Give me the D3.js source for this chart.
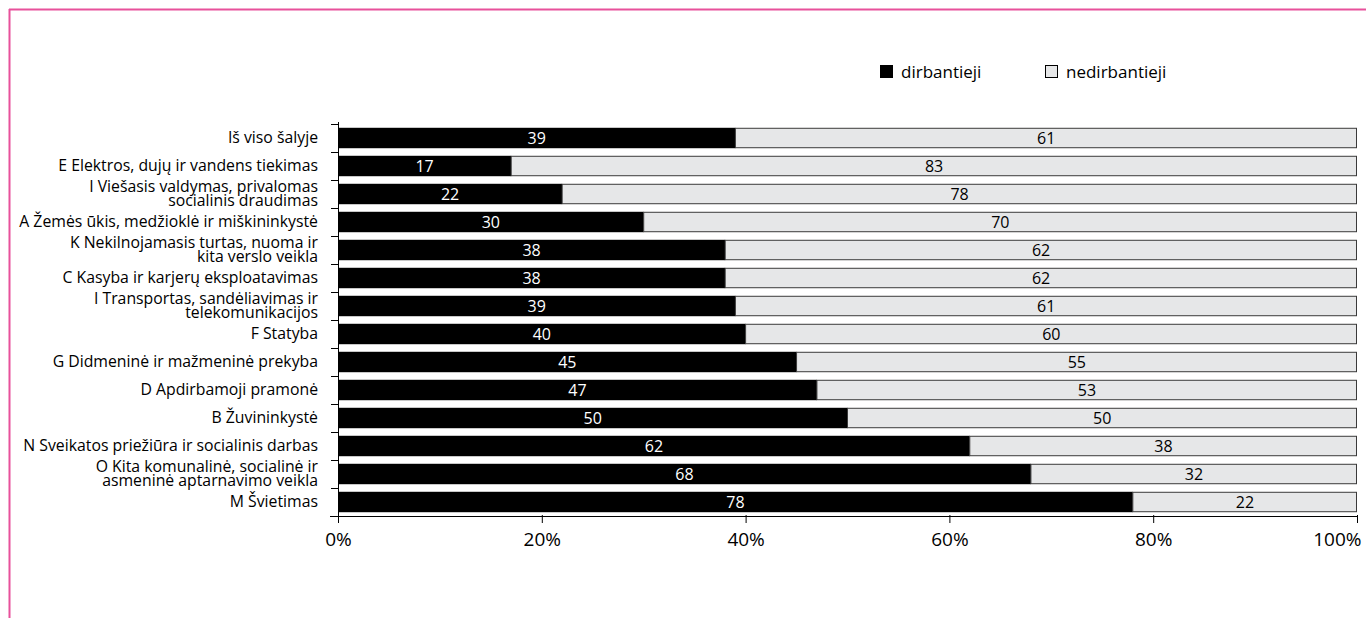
<!DOCTYPE html>
<html>
<head>
<meta charset="utf-8">
<script src="https://cdn.jsdelivr.net/npm/d3@7"></script>
<style>
  body { margin: 0; background: #fff; }
  svg { display: block; font-family: 'Open Sans', sans-serif; }
</style>
</head>
<body>
<svg id="chart" width="1366" height="618"></svg>
<script>
// Sectors (top to bottom), label lines
const sectors = [
  ['Iš viso šalyje'],
  ['E Elektros, dujų ir vandens tiekimas'],
  ['I Viešasis valdymas, privalomas', 'socialinis draudimas'],
  ['A Žemės ūkis, medžioklė ir miškininkystė'],
  ['K Nekilnojamasis turtas, nuoma ir', 'kita verslo veikla'],
  ['C Kasyba ir karjerų eksploatavimas'],
  ['I Transportas, sandėliavimas ir', 'telekomunikacijos'],
  ['F Statyba'],
  ['G Didmeninė ir mažmeninė prekyba'],
  ['D Apdirbamoji pramonė'],
  ['B Žuvininkystė'],
  ['N Sveikatos priežiūra ir socialinis darbas'],
  ['O Kita komunalinė, socialinė ir', 'asmeninė aptarnavimo veikla'],
  ['M Švietimas'],
];
const working = [39, 17, 22, 30, 38, 38, 39, 40, 45, 47, 50, 62, 68, 78];
const notWorking = [61, 83, 78, 70, 62, 62, 61, 60, 55, 53, 50, 38, 32, 22];
const seriesNames = ['dirbantieji', 'nedirbantieji'];
const xTicks = [0, 20, 40, 60, 80, 100];

const svg = d3.select('#chart');

// page frame (pink lines top and left)
svg.append('line').attr('x1', 9).attr('x2', 1366).attr('y1', 9.5).attr('y2', 9.5)
  .attr('stroke', '#e8519b').attr('stroke-width', 2);
svg.append('line').attr('x1', 9.5).attr('x2', 9.5).attr('y1', 9).attr('y2', 618)
  .attr('stroke', '#e8519b').attr('stroke-width', 2);

const margin = { left: 338, right: 9, top: 124, bottom: 102 };
const width = 1366 - margin.left - margin.right;
const height = 618 - margin.top - margin.bottom;

const g = svg.append('g').attr('transform', `translate(${margin.left},${margin.top})`);

const x = d3.scaleLinear().domain([0, 100]).range([0, width]);
const y = d3.scaleBand().domain(d3.range(sectors.length)).range([0, height])
  .paddingInner(0.27).paddingOuter(0.135);

const rows = sectors.map((s, i) => ({ i, lines: s, a: working[i], b: notWorking[i] }));

// bars: working (black)
g.selectAll('rect.work')
  .data(rows)
  .join('rect')
  .attr('class', 'work')
  .attr('x', x(0))
  .attr('y', (d) => y(d.i))
  .attr('width', (d) => x(d.a) - x(0))
  .attr('height', y.bandwidth())
  .attr('fill', '#000');

// bars: not working (light gray)
g.selectAll('rect.notwork')
  .data(rows)
  .join('rect')
  .attr('class', 'notwork')
  .attr('x', (d) => x(d.a))
  .attr('y', (d) => y(d.i) + 0.5)
  .attr('width', (d) => x(d.a + d.b) - x(d.a) - 0.5)
  .attr('height', y.bandwidth() - 1)
  .attr('fill', '#e6e7e8')
  .attr('stroke', '#3a3a3a')
  .attr('stroke-width', 1);

// value labels
g.selectAll('text.va')
  .data(rows)
  .join('text')
  .attr('class', 'va')
  .attr('x', (d) => x(d.a / 2))
  .attr('y', (d) => y(d.i) + y.bandwidth() / 2)
  .attr('dy', '0.36em')
  .attr('text-anchor', 'middle')
  .attr('fill', '#fff')
  .style('font-size', '16px')
  .text((d) => d.a);

g.selectAll('text.vb')
  .data(rows)
  .join('text')
  .attr('class', 'vb')
  .attr('x', (d) => x(d.a + d.b / 2))
  .attr('y', (d) => y(d.i) + y.bandwidth() / 2)
  .attr('dy', '0.36em')
  .attr('text-anchor', 'middle')
  .attr('fill', '#000')
  .style('font-size', '16px')
  .text((d) => d.b);

// y axis: line with ticks at band boundaries
const step = y.step();
g.append('line').attr('x1', 0.5).attr('x2', 0.5).attr('y1', -2).attr('y2', height)
  .attr('stroke', '#000');
g.selectAll('line.ytick')
  .data(d3.range(sectors.length + 1))
  .join('line')
  .attr('class', 'ytick')
  .attr('x1', -7).attr('x2', 0)
  .attr('y1', (d) => Math.round(d * step) + 0.5)
  .attr('y2', (d) => Math.round(d * step) + 0.5)
  .attr('stroke', '#000');

// category labels
const labels = g.selectAll('text.cat')
  .data(rows)
  .join('text')
  .attr('class', 'cat')
  .attr('text-anchor', 'end')
  .attr('fill', '#000')
  .style('font-size', '15.8px')
  .attr('transform', (d) => `translate(-20,${y(d.i) + y.bandwidth() / 2})`);
labels.selectAll('tspan')
  .data((d) => d.lines.map((t, k) => ({ t, k, n: d.lines.length })))
  .join('tspan')
  .attr('x', 0)
  .attr('y', (d) => (d.k - (d.n - 1) / 2) * 14)
  .attr('dy', '0.33em')
  .text((d) => d.t);

// x axis
const xAxis = g.append('g')
  .attr('transform', `translate(0,${height})`)
  .call(d3.axisBottom(x).tickValues(xTicks).tickSize(7).tickSizeOuter(0)
    .tickFormat((d) => `${d}%`));
xAxis.select('.domain').attr('d', `M-8,0.5H${width}`).attr('stroke', '#000');
xAxis.selectAll('.tick line').attr('y1', -1).attr('stroke', '#000');
xAxis.selectAll('.tick text')
  .attr('y', 17)
  .style('font-size', '19px')
  .style('font-family', "'Open Sans', sans-serif")
  .attr('fill', '#000')
  // the last label is pulled in so it ends at the plot edge
  .attr('text-anchor', (d) => (d === 100 ? 'end' : 'middle'))
  .attr('x', (d) => (d === 100 ? 4 : 0));

// legend
const legend = svg.append('g').attr('transform', 'translate(880,72)');
const legendItems = legend.selectAll('g')
  .data(seriesNames)
  .join('g')
  .attr('transform', (d, i) => `translate(${i * 165},0)`);
legendItems.append('rect')
  .attr('x', 0.5).attr('y', -6.5)
  .attr('width', 12).attr('height', 12)
  .attr('fill', (d, i) => (i === 0 ? '#000' : '#e6e7e8'))
  .attr('stroke', '#000');
legendItems.append('text')
  .attr('x', 21)
  .attr('dy', '0.36em')
  .style('font-size', '17px')
  .text((d) => d);
</script>
</body>
</html>
